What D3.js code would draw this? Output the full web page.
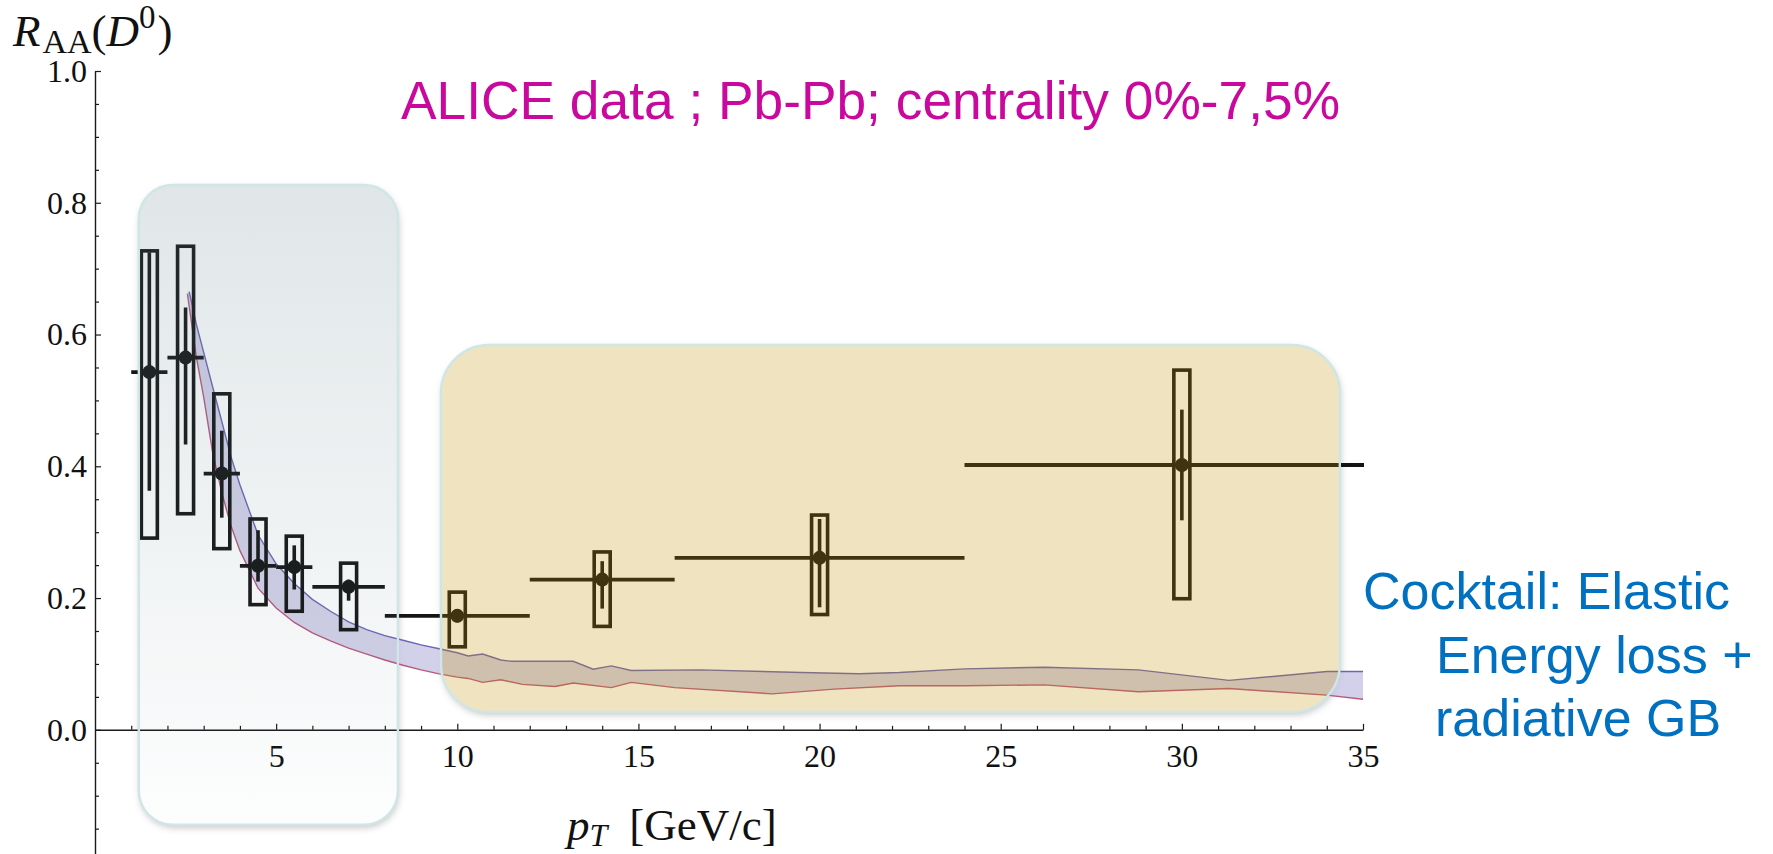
<!DOCTYPE html>
<html>
<head>
<meta charset="utf-8">
<script src="https://cdn.jsdelivr.net/npm/d3@7"></script>
<style>
  html, body { margin: 0; padding: 0; background: #ffffff; }
  svg { display: block; }
</style>
</head>
<body>
<svg id="chart" width="1773" height="854"></svg>
<script>
// ---------------------------------------------------------------
// D0 nuclear modification factor, Pb-Pb, centrality 0-7.5%
// ---------------------------------------------------------------
const ptCenter = [1.5, 2.5, 3.5, 4.5, 5.5, 7, 10, 14, 20, 30];
const binLow   = [1, 2, 3, 4, 5, 6, 8, 12, 16, 24];
const binHigh  = [2, 3, 4, 5, 6, 8, 12, 16, 24, 36];
const raa      = [0.543, 0.565, 0.389, 0.249, 0.247, 0.217, 0.173, 0.228, 0.261, 0.402];
const statLow  = [0.363, 0.433, 0.322, 0.225, 0.213, 0.196, 0.163, 0.184, 0.186, 0.318];
const statHigh = [0.725, 0.641, 0.454, 0.303, 0.280, 0.228, 0.183, 0.256, 0.320, 0.486];
const sysLow   = [0.291, 0.328, 0.275, 0.190, 0.180, 0.152, 0.126, 0.157, 0.175, 0.199];
const sysHigh  = [0.727, 0.734, 0.510, 0.320, 0.294, 0.253, 0.209, 0.270, 0.326, 0.546];

// Model band (elastic + radiative energy loss): upper and lower edges
const bandUpperPt = [2.6, 2.8, 3.0, 3.25, 3.5, 3.75, 4.0, 4.5, 5.0, 5.5, 6.0, 6.5, 7.0, 7.5, 8.0, 8.5,
                     9.0, 9.5, 10.0, 10.3, 10.7, 11.2, 11.5, 13.2, 13.75, 14.25, 14.8, 16.7, 19.5,
                     21.1, 22.2, 24.0, 26.2, 28.8, 31.3, 34.0, 35.0];
const bandUpper   = [0.665, 0.615, 0.573, 0.520, 0.468, 0.415, 0.372, 0.296, 0.252, 0.222, 0.198,
                     0.180, 0.164, 0.152, 0.143, 0.136, 0.129, 0.123, 0.117, 0.112, 0.115, 0.106,
                     0.104, 0.104, 0.092, 0.097, 0.090, 0.091, 0.087, 0.085, 0.087, 0.0925, 0.095,
                     0.091, 0.075, 0.0885, 0.0885];
const bandLowerPt = [2.55, 2.8, 3.0, 3.25, 3.5, 3.75, 4.0, 4.5, 5.0, 5.5, 6.0, 6.5, 7.0, 7.5, 8.0,
                     8.5, 9.0, 9.5, 10.0, 10.3, 10.7, 11.2, 11.8, 12.7, 13.2, 14.25, 14.8, 16.0,
                     18.7, 20.4, 22.2, 24.0, 26.2, 28.8, 31.3, 34.0, 35.0];
const bandLower   = [0.662, 0.565, 0.505, 0.420, 0.360, 0.310, 0.272, 0.215, 0.185, 0.163, 0.147,
                     0.135, 0.124, 0.115, 0.106, 0.098, 0.091, 0.085, 0.080, 0.078, 0.072, 0.076,
                     0.069, 0.0657, 0.071, 0.064, 0.072, 0.064, 0.0546, 0.0617, 0.0668, 0.0668,
                     0.0683, 0.0577, 0.0627, 0.0526, 0.0465];

// Axis ticks
const xMajorTicks = [5, 10, 15, 20, 25, 30, 35];
const xMinorTicks = d3.range(1, 35).filter(v => v % 5 !== 0);
const yMajorTicks = [0, 0.2, 0.4, 0.6, 0.8, 1.0];
const yMinorTicks = d3.range(-0.15, 1.0, 0.05).map(v => +v.toFixed(2))
                      .filter(v => Math.abs(Math.round(v * 5) - v * 5) > 1e-6);

// Texts
const titleText = "ALICE data ; Pb-Pb; centrality 0%-7,5%";
const modelLines = ["Cocktail: Elastic", "Energy loss +", "radiative GB"];

// Highlighted regions, in (pT, R_AA) units
const lowPtRegion  = { x0: 1.21, x1: 8.36,  y0: -0.144, y1: 0.827 };
const highPtRegion = { x0: 9.55, x1: 34.36, y0: 0.027,  y1: 0.584 };

// ---------------------------------------------------------------
const W = 1773, H = 854;
const svg = d3.select("#chart");

const x = d3.scaleLinear().domain([0, 35]).range([95, 1363]);
const y = d3.scaleLinear().domain([-0.19, 1.0]).range([855, 71]);

const serif = "'Liberation Serif', 'Times New Roman', serif";
const sans  = "'Liberation Sans', Arial, sans-serif";

const defs = svg.append("defs");

defs.append("clipPath").attr("id", "plotClip")
  .append("rect")
  .attr("x", x(0)).attr("y", 0)
  .attr("width", x(35) - x(0) + 1).attr("height", H);

defs.append("filter").attr("id", "softBlur")
  .attr("x", "-20%").attr("y", "-20%").attr("width", "140%").attr("height", "140%")
  .append("feGaussianBlur").attr("stdDeviation", 3.5);

const lowGrad = defs.append("linearGradient").attr("id", "lowGrad")
  .attr("x1", 0).attr("y1", 0).attr("x2", 0).attr("y2", 1);
lowGrad.append("stop").attr("offset", "0%").attr("stop-color", "rgb(100,130,140)").attr("stop-opacity", 0.2);
lowGrad.append("stop").attr("offset", "100%").attr("stop-color", "rgb(100,130,140)").attr("stop-opacity", 0.015);

function regionGeom(r) {
  return { x: x(r.x0), y: y(r.y1), w: x(r.x1) - x(r.x0), h: y(r.y0) - y(r.y1) };
}
const regions = [
  { id: "low",  r: lowPtRegion,  rx: 34, fill: "url(#lowGrad)", opacity: 1 },
  { id: "high", r: highPtRegion, rx: 48, fill: "rgb(195,145,0)", opacity: 0.25 }
];

// Masks so that shadows fall only outside each region
regions.forEach(g => {
  const b = regionGeom(g.r);
  const m = defs.append("mask").attr("id", "mask-" + g.id)
    .attr("maskUnits", "userSpaceOnUse")
    .attr("x", 0).attr("y", 0).attr("width", W).attr("height", H);
  m.append("rect").attr("x", 0).attr("y", 0).attr("width", W).attr("height", H).attr("fill", "#fff");
  m.append("rect").attr("x", b.x).attr("y", b.y).attr("width", b.w).attr("height", b.h)
    .attr("rx", g.rx).attr("fill", "#000");
});

svg.append("rect").attr("width", W).attr("height", H).attr("fill", "#fff");

// Shadows of the highlighted regions
regions.forEach(g => {
  const b = regionGeom(g.r);
  svg.append("g").attr("mask", `url(#mask-${g.id})`)
    .append("rect")
    .attr("x", b.x + 1).attr("y", b.y + 3).attr("width", b.w).attr("height", b.h)
    .attr("rx", g.rx)
    .attr("fill", "#000").attr("fill-opacity", 0.22)
    .attr("filter", "url(#softBlur)");
});

// ---------------- Axes ----------------
const axisColor = "#1a1a1a";

function styleAxis(g) {
  g.selectAll("path.domain").attr("stroke", axisColor).attr("stroke-width", 1.4);
  g.selectAll(".tick line").attr("stroke", axisColor).attr("stroke-width", 1.2);
  g.selectAll(".tick text").attr("fill", "#111").attr("font-family", serif).attr("font-size", 32);
}

// x axis at R_AA = 0, ticks pointing inward
const gx = svg.append("g").attr("transform", `translate(0,${y(0)})`);
gx.call(d3.axisBottom(x).tickValues(xMajorTicks).tickSizeInner(-6).tickSizeOuter(0)
  .tickPadding(14).tickFormat(d3.format("d")));
styleAxis(gx);
const gxm = svg.append("g").attr("transform", `translate(0,${y(0)})`);
gxm.call(d3.axisBottom(x).tickValues(xMinorTicks).tickSizeInner(-4).tickSizeOuter(0).tickFormat(""));
gxm.select("path.domain").remove();
styleAxis(gxm);

// y axis at pT = 0
const gy = svg.append("g").attr("transform", `translate(${x(0)},0)`);
gy.call(d3.axisLeft(y).tickValues(yMajorTicks).tickSizeInner(-6).tickSizeOuter(0)
  .tickPadding(8).tickFormat(d3.format(".1f")));
styleAxis(gy);
const gym = svg.append("g").attr("transform", `translate(${x(0)},0)`);
gym.call(d3.axisLeft(y).tickValues(yMinorTicks).tickSizeInner(-4).tickSizeOuter(0).tickFormat(""));
gym.select("path.domain").remove();
styleAxis(gym);

// ---------------- Model band ----------------
const plot = svg.append("g").attr("clip-path", "url(#plotClip)");

const upperPts = bandUpperPt.map((p, i) => [p, bandUpper[i]]);
const lowerPts = bandLowerPt.map((p, i) => [p, bandLower[i]]);
const line = d3.line().x(d => x(d[0])).y(d => y(d[1]));

plot.append("path")
  .attr("d", line(upperPts.concat(lowerPts.slice().reverse())) + "Z")
  .attr("fill", "rgb(200,198,228)").attr("fill-opacity", 0.8);
plot.append("path").attr("d", line(upperPts))
  .attr("fill", "none").attr("stroke", "#6a66b4").attr("stroke-width", 1.4);
plot.append("path").attr("d", line(lowerPts))
  .attr("fill", "none").attr("stroke", "#b8587e").attr("stroke-width", 1.4);

// ---------------- Data points ----------------
const data = ptCenter.map((p, i) => ({
  pt: p, lo: binLow[i], hi: binHigh[i], v: raa[i],
  sLo: statLow[i], sHi: statHigh[i], yLo: sysLow[i], yHi: sysHigh[i]
}));
const ink = "#141414";
const boxHalf = 8; // px

const pts = plot.selectAll("g.pt").data(data).join("g").attr("class", "pt");
// systematic boxes
pts.append("rect")
  .attr("x", d => x(d.pt) - boxHalf).attr("width", 2 * boxHalf)
  .attr("y", d => y(d.yHi)).attr("height", d => y(d.yLo) - y(d.yHi))
  .attr("fill", "none").attr("stroke", ink).attr("stroke-width", 3.6);
// bin widths
pts.append("line")
  .attr("x1", d => x(d.lo)).attr("x2", d => x(d.hi))
  .attr("y1", d => y(d.v)).attr("y2", d => y(d.v))
  .attr("stroke", ink).attr("stroke-width", 3.8);
// statistical errors
pts.append("line")
  .attr("x1", d => x(d.pt)).attr("x2", d => x(d.pt))
  .attr("y1", d => y(d.sLo)).attr("y2", d => y(d.sHi))
  .attr("stroke", ink).attr("stroke-width", 3.6);
// markers
pts.append("circle")
  .attr("cx", d => x(d.pt)).attr("cy", d => y(d.v)).attr("r", 7)
  .attr("fill", ink);

// ---------------- Highlight overlays ----------------
regions.forEach(g => {
  const b = regionGeom(g.r);
  svg.append("rect")
    .attr("x", b.x).attr("y", b.y).attr("width", b.w).attr("height", b.h)
    .attr("rx", g.rx)
    .attr("fill", g.fill).attr("fill-opacity", g.opacity)
    .attr("stroke", "#cfe6e7").attr("stroke-width", 2.4);
});

// ---------------- Axis titles ----------------
const yl = svg.append("text")
  .attr("x", 13).attr("y", 46)
  .attr("font-family", serif).attr("font-size", 45).attr("fill", "#111");
yl.append("tspan").attr("font-style", "italic").text("R");
yl.append("tspan").attr("font-size", 34).attr("dy", 7).attr("dx", 2).text("AA");
yl.append("tspan").attr("dy", -7).text("(");
yl.append("tspan").attr("font-style", "italic").text("D");
yl.append("tspan").attr("font-size", 33).attr("dy", -18).text("0");
yl.append("tspan").attr("dy", 18).attr("dx", 2).text(")");

const xl = svg.append("text")
  .attr("x", 567).attr("y", 840)
  .attr("font-family", serif).attr("font-size", 45).attr("fill", "#111");
xl.append("tspan").attr("font-style", "italic").text("p");
xl.append("tspan").attr("font-style", "italic").attr("font-size", 32).attr("dy", 6).text("T");
xl.append("tspan").attr("dy", -6).attr("dx", 22).text("[GeV/c]");

// ---------------- Annotations ----------------
svg.append("text")
  .attr("x", 401).attr("y", 119)
  .attr("font-family", sans).attr("font-size", 53.3).attr("fill", "#c9089e")
  .text(titleText);

const modelPos = [[1363, 609], [1436, 673], [1435, 736]];
svg.selectAll("text.model").data(modelLines).join("text")
  .attr("class", "model")
  .attr("x", (d, i) => modelPos[i][0]).attr("y", (d, i) => modelPos[i][1])
  .attr("font-family", sans).attr("font-size", 52).attr("fill", "#0070c0")
  .text(d => d);
</script>
</body>
</html>
